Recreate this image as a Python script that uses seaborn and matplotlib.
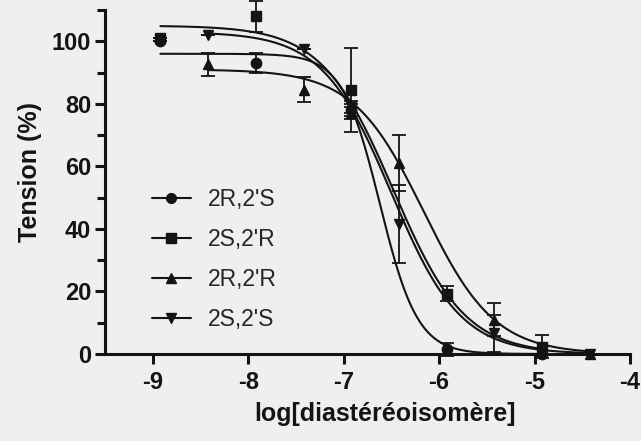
# ── Imports ──────────────────────────────────────────────────────────
import numpy as np
import pandas as pd
import matplotlib
matplotlib.use('Agg')
import matplotlib.pyplot as plt
from matplotlib.lines import Line2D
import seaborn as sns

# ── Data ─────────────────────────────────────────────────────────────
series_names = ["2R,2'S", "2S,2'R", "2R,2'R", "2S,2'S"]
series_markers = ['o', 's', '^', 'v']

x_circle = [-8.92, -7.92, -6.92, -5.92, -4.92]
y_circle = [100.0, 93.0, 78.0, 1.5, 0.0]
e_circle = [0.0, 3.3, 2.0, 2.0, 0.0]

x_square = [-8.92, -7.92, -6.92, -5.92, -4.92]
y_square = [101.0, 108.0, 84.5, 19.2, 2.3]
e_square = [0.0, 5.0, 13.5, 2.4, 3.7]

x_tri_up = [-8.42, -7.42, -6.92, -6.42, -5.42, -4.42]
y_tri_up = [92.6, 84.5, 77.0, 61.0, 10.9, 0.0]
e_tri_up = [3.7, 4.0, 2.0, 9.0, 5.3, 0.0]

x_tri_down = [-8.42, -7.42, -6.92, -6.42, -5.42, -4.42]
y_tri_down = [102.0, 97.4, 79.0, 41.5, 6.6, 0.0]
e_tri_down = [0.0, 0.0, 2.0, 12.5, 6.0, 0.0]

# sigmoid fit parameters (top, bottom, logEC50, Hill slope), estimated from the curves
fit_top = [96.0, 105.0, 91.0, 103.0]
fit_bottom = [0.0, 0.0, 0.0, 0.0]
fit_logec50 = [-6.62, -6.48, -6.16, -6.50]
fit_hill = [2.2, 1.16, 1.17, 1.2]

xs_all = [x_circle, x_square, x_tri_up, x_tri_down]
ys_all = [y_circle, y_square, y_tri_up, y_tri_down]
es_all = [e_circle, e_square, e_tri_up, e_tri_down]

# ── Build tidy frames ────────────────────────────────────────────────
points = pd.concat([
    pd.DataFrame({'logc': x, 'tension': y, 'err': e, 'serie': name})
    for name, x, y, e in zip(series_names, xs_all, ys_all, es_all)
], ignore_index=True)

curves = []
for name, x, top, bot, ec, h in zip(series_names, xs_all, fit_top, fit_bottom,
                                    fit_logec50, fit_hill):
    grid = np.linspace(min(x), max(x), 300)
    curves.append(pd.DataFrame({
        'logc': grid,
        'tension': bot + (top - bot) / (1 + 10 ** ((grid - ec) * h)),
        'serie': name,
    }))
curves = pd.concat(curves, ignore_index=True)

# ── Style ────────────────────────────────────────────────────────────
sns.set_style('ticks')
plt.rcParams['font.family'] = ['Liberation Sans', 'DejaVu Sans']
ink = '#141414'
bg = '#efefef'

fig = plt.figure(figsize=(6.41, 4.41), dpi=100, facecolor=bg)
ax = fig.add_axes([105 / 641, 87 / 441, 525 / 641, 344 / 441])
ax.set_facecolor(bg)

palette = {n: ink for n in series_names}
sns.lineplot(data=curves, x='logc', y='tension', hue='serie', palette=palette,
             units='serie', estimator=None, linewidth=1.5, legend=False, ax=ax)

for name, m in zip(series_names, series_markers):
    d = points[points['serie'] == name]
    ax.errorbar(d['logc'], d['tension'], yerr=d['err'], fmt=m, color=ink,
                markersize=7.5, elinewidth=1.3, capsize=5, capthick=1.3,
                clip_on=False, zorder=3)

# ── Axes ─────────────────────────────────────────────────────────────
ax.set_xlim(-9.5, -4)
ax.set_ylim(0, 110)
ax.set_xticks([-9, -8, -7, -6, -5, -4])
ax.set_xticklabels(['-9', '-8', '-7', '-6', '-5', '-4'])
ax.set_yticks([0, 20, 40, 60, 80, 100])
ax.set_yticks([10, 30, 50, 70, 90, 110], minor=True)
sns.despine(ax=ax)
for s in ['left', 'bottom']:
    ax.spines[s].set_linewidth(2.2)
    ax.spines[s].set_color(ink)
ax.tick_params(which='major', length=7, width=2.2, color=ink, labelsize=17, pad=3)
ax.tick_params(axis='x', which='major', pad=5)
ax.tick_params(which='minor', length=6, width=2.2, color=ink)
for lab in ax.get_xticklabels() + ax.get_yticklabels():
    lab.set_fontweight('bold')
    lab.set_color(ink)

ax.set_xlabel('log[diastéréoisomère]', fontsize=18, fontweight='bold', color=ink)
ax.set_ylabel('Tension (%)', fontsize=18, fontweight='bold', color=ink)
ax.xaxis.set_label_coords(0.533, -0.14)
ax.yaxis.set_label_coords(-0.12, 0.53)

# ── Legend ───────────────────────────────────────────────────────────
handles = [Line2D([], [], color=ink, marker=m, markersize=7, linewidth=1.5)
           for m in series_markers]
ax.legend(handles, series_names, loc='upper left', bbox_to_anchor=(0.05, 0.543),
          frameon=False, fontsize=16.5, handlelength=1.7, labelspacing=0.75,
          handletextpad=0.75)

fig.savefig('out.png', dpi=100, facecolor=bg)
